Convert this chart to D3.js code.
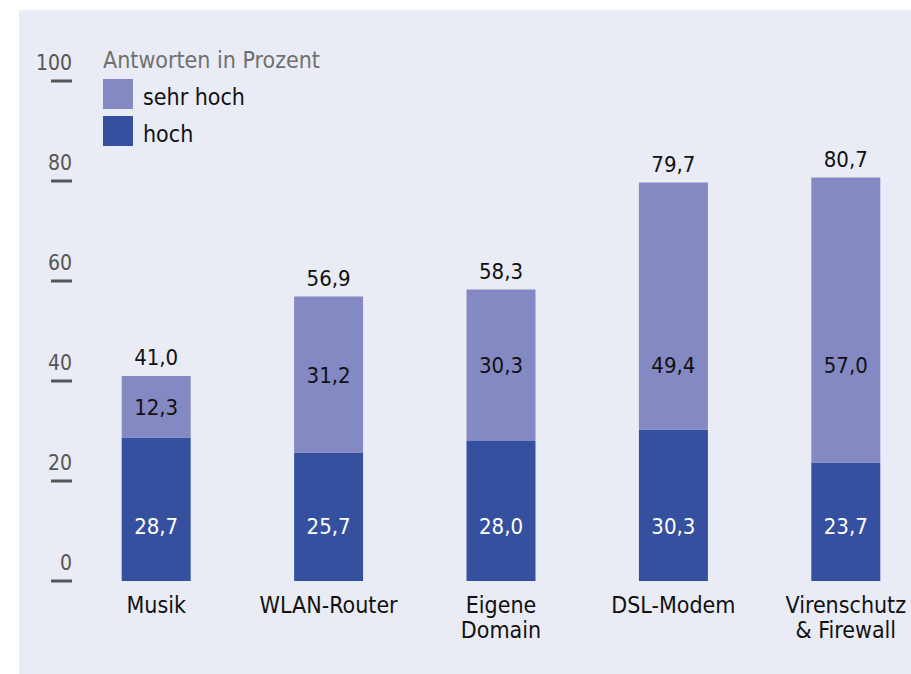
<!DOCTYPE html>
<html>
<head>
<meta charset="utf-8">
<script src="https://cdn.jsdelivr.net/npm/d3@7"></script>
<style>
  body { margin: 0; background: #fff; }
  svg text { font-family: "Liberation Sans Narrow", "DejaVu Sans Condensed", sans-serif; }
</style>
</head>
<body>
<div id="chart"></div>
<script>
const categories = [["Musik"], ["WLAN-Router"], ["Eigene", "Domain"], ["DSL-Modem"], ["Virenschutz", "& Firewall"]];
const hoch = [28.7, 25.7, 28.0, 30.3, 23.7];
const sehrHoch = [12.3, 31.2, 30.3, 49.4, 57.0];
const totals = [41.0, 56.9, 58.3, 79.7, 80.7];
const yTicks = [0, 20, 40, 60, 80, 100];
const legendTitle = "Antworten in Prozent";
const seriesNames = ["sehr hoch", "hoch"];

const width = 911, height = 674;
const colorHoch = "#34509e", colorSehr = "#8589c3";
const fmt = v => d3.format(".1f")(v).replace(".", ",");

const svg = d3.select("#chart").append("svg")
  .attr("width", width).attr("height", height);

// Hintergrund
svg.append("rect")
  .attr("x", 19).attr("y", 10)
  .attr("width", width - 19).attr("height", height - 10)
  .attr("fill", "#e9ebf5");

const y = d3.scaleLinear().domain([0, 100]).range([581, 81]);
const x = d3.scaleBand()
  .domain(categories.map((d, i) => i))
  .range([70, 932])
  .paddingInner(0.6)
  .paddingOuter(0.3);

// Y-Achse: kurze Striche mit Zahlen darüber
const ticks = svg.append("g");
ticks.selectAll("line").data(yTicks).enter().append("line")
  .attr("x1", 51).attr("x2", 72)
  .attr("y1", d => y(d)).attr("y2", d => y(d))
  .attr("stroke", "#555").attr("stroke-width", 3);
ticks.selectAll("text").data(yTicks).enter().append("text")
  .attr("x", 72).attr("y", d => y(d) - 11)
  .attr("text-anchor", "end")
  .style("font-size", "21px")
  .style("fill", "#555")
  .text(d => d);

// Balken
const bars = svg.append("g");
bars.selectAll(".hoch").data(hoch).enter().append("rect")
  .attr("x", (d, i) => x(i)).attr("width", x.bandwidth())
  .attr("y", d => y(d)).attr("height", d => y(0) - y(d))
  .attr("fill", colorHoch);
bars.selectAll(".sehr").data(sehrHoch).enter().append("rect")
  .attr("x", (d, i) => x(i)).attr("width", x.bandwidth())
  .attr("y", (d, i) => y(hoch[i] + d)).attr("height", d => y(0) - y(d))
  .attr("fill", colorSehr);

// Werte in den Segmenten (untere auf einer Linie, obere höchstens auf ~43)
const labels = svg.append("g")
  .attr("text-anchor", "middle")
  .style("font-size", "22px");
labels.selectAll(".lh").data(hoch).enter().append("text")
  .attr("x", (d, i) => x(i) + x.bandwidth() / 2)
  .attr("y", d => y(11) + 8)
  .style("fill", "#fff")
  .text(fmt);
labels.selectAll(".ls").data(sehrHoch).enter().append("text")
  .attr("x", (d, i) => x(i) + x.bandwidth() / 2)
  .attr("y", (d, i) => y(Math.min(hoch[i] + d / 2, 43.2)) + 8)
  .style("fill", "#111")
  .text(fmt);
labels.selectAll(".lt").data(totals).enter().append("text")
  .attr("x", (d, i) => x(i) + x.bandwidth() / 2)
  .attr("y", d => y(d) - 11)
  .style("fill", "#111")
  .text(fmt);

// Kategorien
const cat = svg.append("g")
  .attr("text-anchor", "middle")
  .style("font-size", "23px");
categories.forEach((lines, i) => {
  const t = cat.append("text")
    .attr("x", x(i) + x.bandwidth() / 2)
    .attr("y", 613)
    .style("fill", "#111");
  lines.forEach((l, j) => {
    t.append("tspan")
      .attr("x", x(i) + x.bandwidth() / 2)
      .attr("dy", j === 0 ? 0 : 25)
      .text(l);
  });
});

// Legende
const legend = svg.append("g");
legend.append("text")
  .attr("x", 103).attr("y", 68)
  .style("font-size", "23px")
  .style("fill", "#707070")
  .text(legendTitle);
const items = legend.selectAll(".item").data(seriesNames).enter().append("g")
  .attr("transform", (d, i) => `translate(103, ${79 + i * 37})`);
items.append("rect")
  .attr("width", 30).attr("height", 30)
  .attr("fill", (d, i) => i === 0 ? colorSehr : colorHoch);
items.append("text")
  .attr("x", 40).attr("y", 26)
  .style("font-size", "23px")
  .style("fill", "#111")
  .text(d => d);
</script>
</body>
</html>
